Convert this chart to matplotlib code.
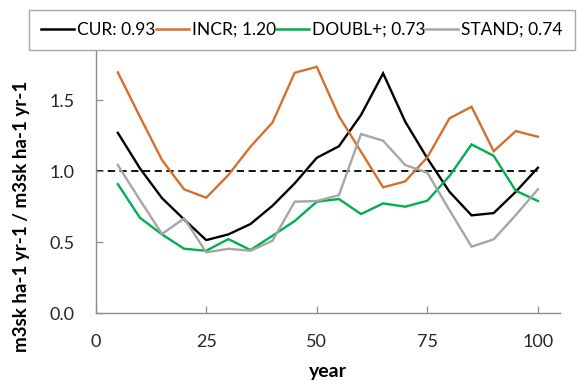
import matplotlib
matplotlib.use("Agg")
import matplotlib.pyplot as plt
from matplotlib.lines import Line2D

plt.rcParams['font.family'] = ['Lato', 'DejaVu Sans']

years = [5, 10, 15, 20, 25, 30, 35, 40, 45, 50, 55, 60, 65, 70, 75, 80, 85, 90, 95, 100]

cur = [1.27, 1.02, 0.81, 0.66, 0.515, 0.555, 0.628, 0.757, 0.914, 1.094,
       1.175, 1.395, 1.688, 1.348, 1.09, 0.855, 0.689, 0.705, 0.855, 1.024]
incr = [1.695, 1.383, 1.078, 0.872, 0.813, 0.973, 1.172, 1.343, 1.692, 1.734,
        1.387, 1.137, 0.886, 0.928, 1.097, 1.371, 1.453, 1.14, 1.282, 1.242]
doubl = [0.909, 0.672, 0.555, 0.454, 0.44, 0.522, 0.445, 0.546, 0.649, 0.785,
         0.804, 0.698, 0.773, 0.75, 0.792, 0.966, 1.188, 1.108, 0.862, 0.79]
stand = [1.043, 0.797, 0.558, 0.668, 0.429, 0.454, 0.44, 0.511, 0.785, 0.79,
         0.831, 1.261, 1.214, 1.043, 0.989, 0.726, 0.469, 0.52, 0.691, 0.872]

labels = ["CUR: 0.93", "INCR; 1.20", "DOUBL+; 0.73", "STAND; 0.74"]
colors = ["#000000", "#D5702C", "#00B050", "#A6A6A6"]

ref_x = [0, 100]
ref_y = [1.0, 1.0]

x_ticks = [0, 25, 50, 75, 100]
y_ticks = [0.0, 0.5, 1.0, 1.5, 2.0]

W, H = 578, 383
fig = plt.figure(figsize=(W / 100, H / 100), dpi=100)
ax = fig.add_axes([95.7 / W, 1 - 313.3 / H, (560 - 95.7) / W, (313.3 - 29) / H])

ax.plot(ref_x, ref_y, color="black", lw=1.3, ls=(0, (4, 2.5)), zorder=1)
for series, c in zip([cur, incr, doubl, stand], colors):
    ax.plot(years, series, color=c, lw=1.7, zorder=2, solid_joinstyle="miter")

ax.set_xlim(0, 105)
ax.set_ylim(0, 2.0)
ax.set_xticks(x_ticks)
ax.set_yticks(y_ticks)
ax.set_yticklabels([f"{v:.1f}" for v in y_ticks])

for s in ["top", "right"]:
    ax.spines[s].set_visible(False)
for s in ["left", "bottom"]:
    ax.spines[s].set_color("#8C8C8C")
    ax.spines[s].set_linewidth(1.0)

ax.tick_params(axis="both", direction="in", length=5, width=0.9, color="#8C8C8C",
               labelsize=13, labelcolor="#262626", pad=15)

ax.set_xlabel("year", fontsize=14, fontweight="bold", labelpad=9)
fig.text(22 / W, 1 - 216 / H, "m3sk ha-1 yr-1 / m3sk ha-1 yr-1", rotation=90,
         fontsize=13.5, fontweight="bold", ha="center", va="center")

handles = [Line2D([0], [0], color=c, lw=1.8) for c in colors]
leg = fig.legend(handles, labels, loc="center",
                 bbox_to_anchor=(29 / W, 1 - 51 / H, (575 - 29) / W, (51 - 9) / H),
                 mode="expand", ncol=4, fontsize=12.5, frameon=True, fancybox=False,
                 handlelength=1.9, handletextpad=0.18, columnspacing=0.5,
                 borderaxespad=0, borderpad=0.7)
leg.get_frame().set_edgecolor("#A6A6A6")
leg.get_frame().set_linewidth(1.0)
leg.get_frame().set_facecolor("white")
leg.get_frame().set_alpha(1)

fig.savefig("out.png", dpi=100)
